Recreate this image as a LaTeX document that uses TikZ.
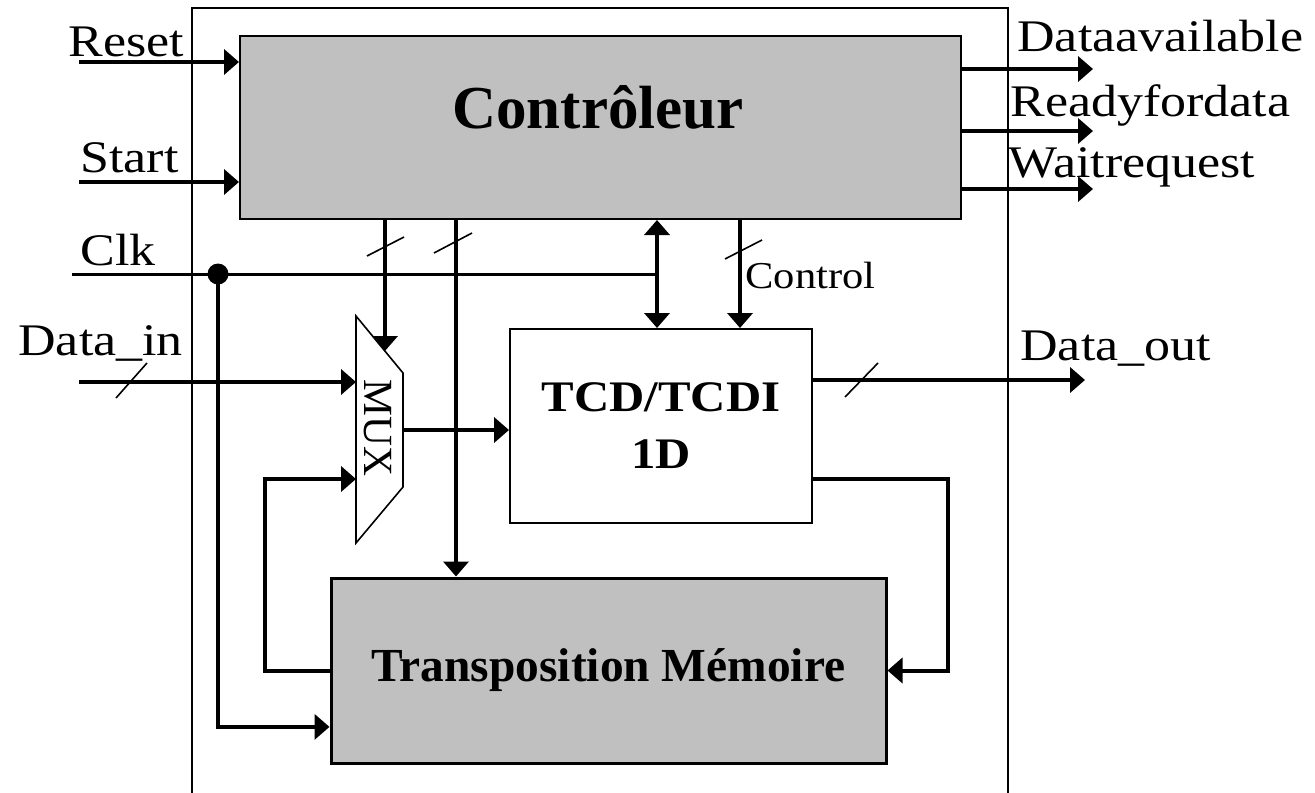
\documentclass[tikz,border=0pt]{standalone}
\usepackage{fontspec}
\setmainfont{Liberation Serif}
\newfontfamily\widefont[FakeStretch=1.15]{Liberation Serif}
\newfontfamily\midfont[FakeStretch=1.12]{Liberation Serif}
\usepackage{tikz}
\usetikzlibrary{arrows.meta,positioning,calc}
\definecolor{blockgray}{HTML}{C0C0C0}

\begin{document}
\begin{tikzpicture}[
    x=0.5pt, y=-0.5pt,
    block/.style={draw, line width=1pt, fill=blockgray, inner sep=0pt},
    lbl/.style={inner sep=0pt, font=\widefont\fontsize{22.6}{27}\selectfont},
    arrow/.style={-{Triangle[length=7.5pt,width=12.5pt]}, line width=2pt},
    wire/.style={line width=2pt},
    busmark/.style={line width=0.8pt}
]
\useasboundingbox (0,0) rectangle (1315,792);

% Outer frame
\draw[line width=1pt] (192,800) -- (192,8) -- (1008,8) -- (1008,800);

% Blocks
\node[block, minimum width=360.5pt, minimum height=91.5pt] (ctrl) at (600.5,127.5) {};
\node[inner sep=0pt, anchor=base, font=\bfseries\fontsize{30.5}{36}\selectfont] (ctrltxt) at (598,128) {Contrôleur};
\node[draw, line width=1pt, fill=white, minimum width=151pt, minimum height=97pt, align=center,
      font=\midfont\bfseries\fontsize{21.8}{28.5}\selectfont] (tcd) at (661,426) {TCD/TCDI\\1D};
\node[block, line width=1.5pt, minimum width=277.5pt, minimum height=92.5pt,
      font=\bfseries\fontsize{23.7}{28}\selectfont] (mem) at (608.5,670.5) {Transposition Mémoire};

% MUX
\draw[line width=0.8pt, fill=white] (356,316) -- (403,373) -- (403,487) -- (356,543) -- cycle;
\node[rotate=-90, inner sep=0pt, font=\fontsize{20.75}{24}\selectfont] (muxtxt) at (378,428) {MUX};
\coordinate (muxtop) at (385,351);
\coordinate (muxinA) at (356,382);
\coordinate (muxinB) at (356,479);
\coordinate (muxout) at (403,430);

% Input labels
\node[lbl, anchor=base west] (reset) at (68,57) {Reset};
\node[lbl, anchor=base west] (start) at (80,172) {Start};
\node[lbl, anchor=base west] (clk) at (80,265) {Clk};
\node[lbl, anchor=base west] (datain) at (18,355) {Data\_in};

% Output labels
\node[lbl, anchor=base west] (dav) at (1017,52) {Dataavailable};
\node[lbl, anchor=base west] (rfd) at (1010,117) {Readyfordata};
\node[lbl, anchor=base west] (wrq) at (1008,177) {Waitrequest};
\node[lbl, anchor=base west] (dout) at (1020,360) {Data\_out};
\node[inner sep=0pt, anchor=base west, font=\midfont\fontsize{19}{23}\selectfont] (ctltxt) at (745,288) {Control};

% Wire ends
\coordinate (resetin) at (79,62);
\coordinate (startin) at (79,182);
\coordinate (clkin) at (72,274);
\coordinate (dinin) at (79,382);
\coordinate (davout) at (1093,69);
\coordinate (rfdout) at (1093,131);
\coordinate (wrqout) at (1093,189);
\coordinate (doutend) at (1085,380);
\coordinate (bus) at (657,274);
\coordinate (ctlbus) at (740,274);
\coordinate (membus) at (456,274);
\coordinate (fbright) at (948,479);
\coordinate (fbleft) at (265,479);
\node[circle, fill, inner sep=0pt, minimum size=10.5pt] (clkdot) at (218,274) {};

% Controller in/out
\draw[arrow] (resetin) -- (resetin -| ctrl.west);
\draw[arrow] (startin) -- (startin -| ctrl.west);
\draw[arrow] (davout -| ctrl.east) -- (davout);
\draw[arrow] (rfdout -| ctrl.east) -- (rfdout);
\draw[arrow] (wrqout -| ctrl.east) -- (wrqout);

% Clock
\draw[line width=1.5pt] (clkin) -- (clkdot.center) -- (bus);
\draw[arrow] (clkdot.center) |- ($(mem.south west)!0.2!(mem.north west)$);
\draw[{Triangle[length=7.5pt,width=12.5pt]}-{Triangle[length=7.5pt,width=12.5pt]}, line width=2pt]
    (bus |- ctrl.south) -- (bus |- tcd.north);

% Controller to blocks
\draw[arrow] (muxtop |- ctrl.south) -- (muxtop);
\draw[arrow] (membus |- ctrl.south) -- (membus |- mem.north);
\draw[arrow] (ctlbus |- ctrl.south) -- (ctlbus |- tcd.north);

% Data path
\draw[arrow] (dinin) -- (muxinA);
\draw[arrow] (muxout) -- (muxout -| tcd.west);
\draw[arrow] (doutend -| tcd.east) -- (doutend);
\draw[arrow] (fbright -| tcd.east) -- (fbright) |- (mem.east);
\draw[arrow] (mem.west) -| (fbleft) -- (muxinB);

% Bus marks
\draw[busmark] (116,398) -- (147,363);
\draw[busmark] (367,256) -- (404,237);
\draw[busmark] (434,253) -- (472,233);
\draw[busmark] (725,259) -- (762,240);
\draw[busmark] (845,397) -- (878,363);

\end{tikzpicture}
\end{document}
